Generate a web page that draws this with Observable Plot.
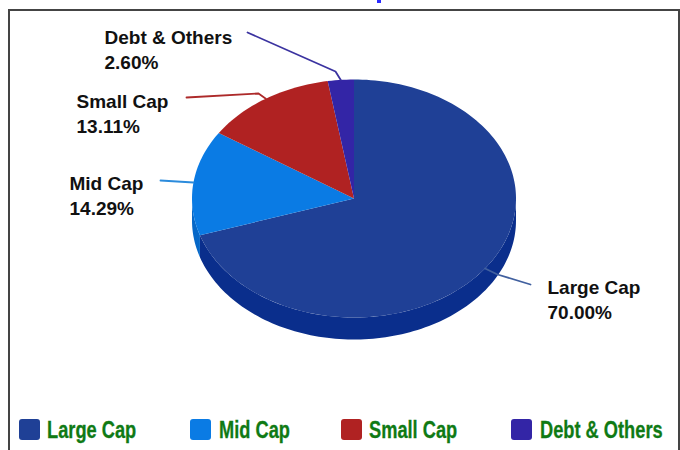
<!DOCTYPE html>
<html><head><meta charset="utf-8">
<script src="https://cdn.jsdelivr.net/npm/d3@7"></script>
<script src="https://cdn.jsdelivr.net/npm/@observablehq/plot@0.6"></script>
<style>
html,body{margin:0;padding:0;background:#fff;width:680px;height:450px;overflow:hidden}
#wrap{position:relative;width:680px;height:450px;overflow:hidden}
#frame{position:absolute;left:8px;top:9px;width:668px;height:460px;border:2px solid #444;box-sizing:content-box}
#tick{position:absolute;left:377px;top:0;width:4px;height:3px;background:#2a2aff}
#chart{position:absolute;left:0;top:0}
.sw{position:absolute;top:419px;width:21px;height:21px;border-radius:3px}
.lg{position:absolute;top:416px;font:bold 24px/28px "Liberation Sans",sans-serif;color:#0f7a14;transform-origin:left center;white-space:nowrap;-webkit-text-stroke:0.3px #0f7a14}
</style></head>
<body><div id="wrap"><div id="tick"></div><div id="frame"></div><div id="chart"></div></div>
<script>
// Data
const categories = ["Large Cap","Mid Cap","Small Cap","Debt & Others"];
const shares = [70.00,14.29,13.11,2.60];
const colors = ["#1f4096","#0a7be4","#b02222","#3325a6"];
const sideColors = ["#0a2e8c","#0668c8","#8c1a1a","#281c88"];
const leaderColors = ["#41609f","#2b8bdc","#ad2a2a","#3b33a0"];

// Layout (pixels in the 680x450 page)
const cx=353.5, cy=198, rx=162, ry=119, depth=22;
const labelAt = [[547,276],[69,172],[76,90],[104,26]];
const leaderEnds = [[[497,274],[530,284]],[[160,180]],[[258,93],[186,97]],[[335,71],[247,32]]];
const legendSwatchX=[19,190,341,511], legendTextX=[47,219,369,540], legendScale=0.76;

const ux=p=>(p-cx)/rx, uy=p=>(cy-p)/ry;
const pt=(deg,drop=0)=>{const a=deg*Math.PI/180;return {x:Math.sin(a),y:Math.cos(a)-drop/ry};};

const total=d3.sum(shares);
let acc=0;
const slices=categories.map((name,i)=>{
  const start=acc/total*360; acc+=shares[i]; const end=acc/total*360;
  return {name,value:shares[i],start,end,mid:(start+end)/2,i};
});
const arc=(a,b)=>{const n=Math.max(2,Math.ceil((b-a)/1.5));return d3.range(n+1).map(k=>a+(b-a)*k/n);};

const topFace=slices.flatMap(s=>[{x:0,y:0,name:s.name},...arc(s.start,s.end).map(d=>({...pt(d),name:s.name}))]);
const sideFace=slices.flatMap(s=>{
  const a=Math.max(s.start,90), b=Math.min(s.end,270);
  if(b<=a) return [];
  const A=arc(a,b);
  return [...A.map(d=>({...pt(d),name:s.name})),...A.slice().reverse().map(d=>({...pt(d,depth),name:s.name}))];
});
const leaders=slices.flatMap(s=>[pt(s.mid),...leaderEnds[s.i].map(([x,y])=>({x:ux(x),y:uy(y)}))].map(p=>({...p,name:s.name})));
const labels=slices.map(s=>({x:ux(labelAt[s.i][0]),y:uy(labelAt[s.i][1]),text:s.name+"\n"+s.value.toFixed(2)+"%"}));

const plot=Plot.plot({
  width:680,height:450,margin:0,
  style:{background:"transparent",overflow:"visible"},
  x:{domain:[-1,1],range:[cx-rx,cx+rx],axis:null},
  y:{domain:[-1,1],range:[cy+ry,cy-ry],axis:null},
  marks:[
    Plot.line(sideFace,{x:"x",y:"y",z:"name",fill:d=>sideColors[categories.indexOf(d.name)],stroke:null,curve:"linear"}),
    Plot.line(topFace,{x:"x",y:"y",z:"name",fill:d=>colors[categories.indexOf(d.name)],stroke:null,curve:"linear"}),
    Plot.line(leaders,{x:"x",y:"y",z:"name",stroke:d=>leaderColors[categories.indexOf(d.name)],strokeWidth:1.8,curve:"linear"}),
    Plot.text(labels,{x:"x",y:"y",text:"text",textAnchor:"start",lineAnchor:"top",fontSize:19,fontWeight:"bold",lineHeight:1.32,fontFamily:"Liberation Sans",fill:"#111"})
  ]
});
document.getElementById("chart").append(plot);

const wrap=document.getElementById("wrap");
categories.forEach((c,i)=>{
  const s=document.createElement("div");s.className="sw";s.style.left=legendSwatchX[i]+"px";s.style.background=colors[i];wrap.append(s);
  const t=document.createElement("div");t.className="lg";t.style.left=legendTextX[i]+"px";t.style.transform=`scaleX(${legendScale})`;t.textContent=c;wrap.append(t);
});
</script></body></html>
